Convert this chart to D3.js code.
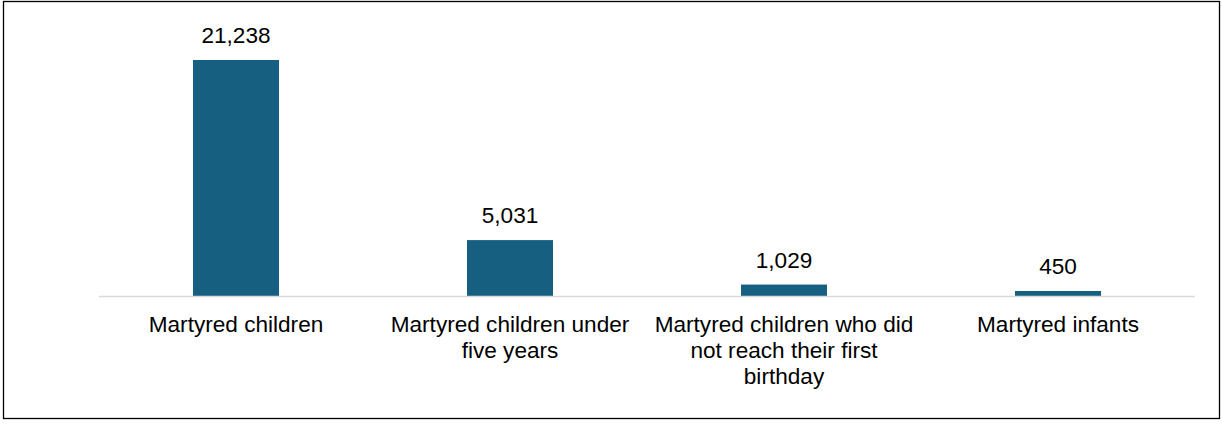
<!DOCTYPE html>
<html>
<head>
<meta charset="utf-8">
<script src="https://cdn.jsdelivr.net/npm/d3@7"></script>
<style>
  body { margin: 0; background: #fff; }
  svg { display: block; font-family: "Liberation Sans", Arial, sans-serif; }
</style>
</head>
<body>
<script>
const categories = [
    "Martyred children",
    "Martyred children under five years",
    "Martyred children who did not reach their first birthday",
    "Martyred infants"
];
const values = [21238, 5031, 1029, 450];

const width = 1222, height = 424;
const margin = { left: 99, right: 27, top: 18, baseline: 296 };
const fontSize = 22.6;

const svg = d3.create("svg")
    .attr("width", width)
    .attr("height", height);

document.body.appendChild(svg.node());

// outer frame
svg.append("rect")
    .attr("x", 3.5).attr("y", 1.5)
    .attr("width", 1216).attr("height", 417)
    .attr("fill", "none")
    .attr("stroke", "#000")
    .attr("stroke-width", 1.3);

const x = d3.scaleBand()
    .domain(categories)
    .range([margin.left, width - margin.right])
    .paddingInner(0.686)
    .paddingOuter(0.343);

const y = d3.scaleLinear()
    .domain([0, 25000])
    .range([margin.baseline, margin.baseline - 25000 * 236 / 21238]);

const g = svg.append("g");

g.selectAll("rect.bar")
    .data(values)
    .join("rect")
    .attr("class", "bar")
    .attr("x", (d, i) => x(categories[i]))
    .attr("y", d => y(d))
    .attr("width", x.bandwidth())
    .attr("height", d => y(0) - y(d))
    .attr("fill", "#175f80");

// baseline
svg.append("line")
    .attr("x1", margin.left).attr("x2", width - margin.right)
    .attr("y1", y(0) + 0.5).attr("y2", y(0) + 0.5)
    .attr("stroke", "#d9d9d9")
    .attr("stroke-width", 1.5);

// value labels
g.selectAll("text.val")
    .data(values)
    .join("text")
    .attr("class", "val")
    .attr("x", (d, i) => x(categories[i]) + x.bandwidth() / 2)
    .attr("y", d => y(d) - 17)
    .attr("text-anchor", "middle")
    .attr("font-size", fontSize)
    .attr("fill", "#000")
    .text(d => d3.format(",")(d));

// category labels, wrapped
const labels = svg.append("g").selectAll("text.cat")
    .data(categories)
    .join("text")
    .attr("class", "cat")
    .attr("text-anchor", "middle")
    .attr("font-size", fontSize)
    .attr("fill", "#000")
    .attr("x", d => x(d) + x.bandwidth() / 2)
    .attr("y", 332);

labels.each(function (d) {
    const t = d3.select(this);
    const words = d.split(" ");
    let line = [];
    let tspan = t.append("tspan").attr("x", t.attr("x")).attr("dy", 0);
    words.forEach(w => {
        line.push(w);
        tspan.text(line.join(" "));
        if (tspan.node().getComputedTextLength() > 266 && line.length > 1) {
            line.pop();
            tspan.text(line.join(" "));
            line = [w];
            tspan = t.append("tspan").attr("x", t.attr("x")).attr("dy", 26).text(w);
        }
    });
});
</script>
</body>
</html>
